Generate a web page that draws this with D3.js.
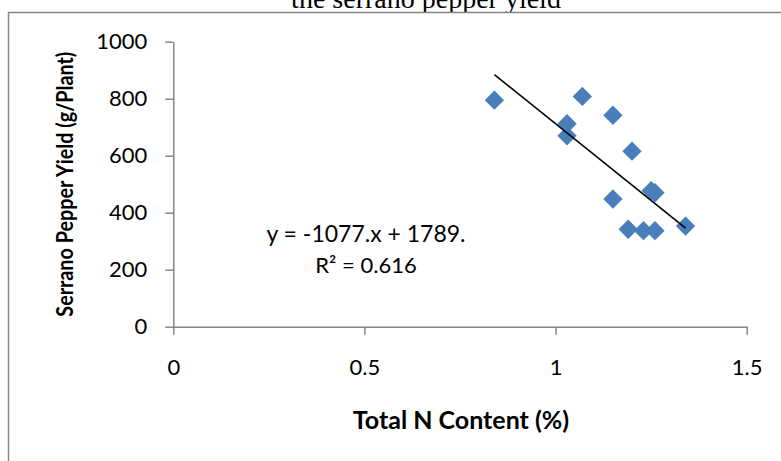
<!DOCTYPE html>
<html>
<head>
<meta charset="utf-8">
<script src="https://cdn.jsdelivr.net/npm/d3@7"></script>
<style>
  body { margin: 0; background: #fff; }
  svg { display: block; }
</style>
</head>
<body>
<script>
// data
const nContent = [0.84, 1.07, 1.15, 1.03, 1.03, 1.20, 1.25, 1.26, 1.15, 1.19, 1.23, 1.26, 1.34];
const pepperYield = [795, 808, 742, 712, 670, 616, 477, 470, 448, 342, 337, 337, 353];
const xTicks = [0, 0.5, 1, 1.5];
const yTicks = [0, 200, 400, 600, 800, 1000];
const trendSlope = -1077;
const trendIntercept = 1789;
const eqText = "y = -1077.x + 1789.";
const r2Text = "R² = 0.616";

const width = 781, height = 461;
const pointColor = "#4a7ebb";
const axisColor = "#868686";

const svg = d3.select("body").append("svg")
    .attr("width", width)
    .attr("height", height);

// title, partly hidden under the chart frame
svg.append("text")
    .attr("x", 426)
    .attr("y", 8)
    .attr("text-anchor", "middle")
    .style("font-family", "'Liberation Serif', serif")
    .style("font-size", "28px")
    .text("the serrano pepper yield");

// chart frame
svg.append("rect")
    .attr("x", 8.5)
    .attr("y", 12.5)
    .attr("width", 900)
    .attr("height", 600)
    .attr("fill", "#fff")
    .attr("stroke", axisColor)
    .attr("stroke-width", 1.5);

const x = d3.scaleLinear().domain([0, 1.5]).range([173.3, 746.7]);
const y = d3.scaleLinear().domain([0, 1000]).range([326.7, 41.7]);

const font = "Lato, 'Open Sans', sans-serif";

const xAxis = svg.append("g")
    .attr("transform", `translate(0, ${y(0)})`)
    .call(d3.axisBottom(x).tickValues(xTicks).tickFormat(d => d)
        .tickSize(8).tickSizeOuter(0).tickPadding(25));

const yAxis = svg.append("g")
    .attr("transform", `translate(${x(0)}, 0)`)
    .call(d3.axisLeft(y).tickValues(yTicks).tickFormat(d => d)
        .tickSize(8).tickSizeOuter(0).tickPadding(18));

[xAxis, yAxis].forEach(g => {
    g.select(".domain").attr("stroke", axisColor).attr("stroke-width", 1.5);
    g.selectAll(".tick line").attr("stroke", axisColor).attr("stroke-width", 1.5);
    g.selectAll(".tick text")
        .attr("fill", "#000")
        .style("font-family", font)
        .style("font-size", "22px");
});

// axis titles
svg.append("text")
    .attr("x", 461)
    .attr("y", 429)
    .attr("text-anchor", "middle")
    .style("font-family", font)
    .style("font-weight", "bold")
    .style("font-size", "25px")
    .text("Total N Content (%)");

// y title: a bit condensed along its length, like the original
svg.append("text")
    .attr("transform", `translate(73, ${(y(0) + y(1000)) / 2}) rotate(-90) scale(0.86, 1)`)
    .attr("text-anchor", "middle")
    .style("font-family", font)
    .style("font-weight", "bold")
    .style("font-size", "23px")
    .text("Serrano Pepper Yield (g/Plant)");

// points
const points = nContent.map((v, i) => ({ n: v, y: pepperYield[i] }));
svg.append("g")
    .selectAll("path")
    .data(points)
    .join("path")
    .attr("d", d3.symbol(d3.symbolSquare, 187))
    .attr("transform", d => `translate(${x(d.n)}, ${y(d.y)}) rotate(45)`)
    .attr("fill", pointColor);

// linear trendline over the data range
const xr = d3.extent(nContent);
const trend = xr.map(v => ({ n: v, y: trendSlope * v + trendIntercept }));
svg.append("path")
    .datum(trend)
    .attr("fill", "none")
    .attr("stroke", "#000")
    .attr("stroke-width", 1.6)
    .attr("d", d3.line().x(d => x(d.n)).y(d => y(d.y)));

// equation label
svg.append("text")
    .attr("x", 366)
    .attr("y", 242)
    .attr("text-anchor", "middle")
    .style("font-family", font)
    .style("font-size", "23px")
    .text(eqText);
svg.append("text")
    .attr("x", 366)
    .attr("y", 273)
    .attr("text-anchor", "middle")
    .style("font-family", font)
    .style("font-size", "22px")
    .text(r2Text);
</script>
</body>
</html>
